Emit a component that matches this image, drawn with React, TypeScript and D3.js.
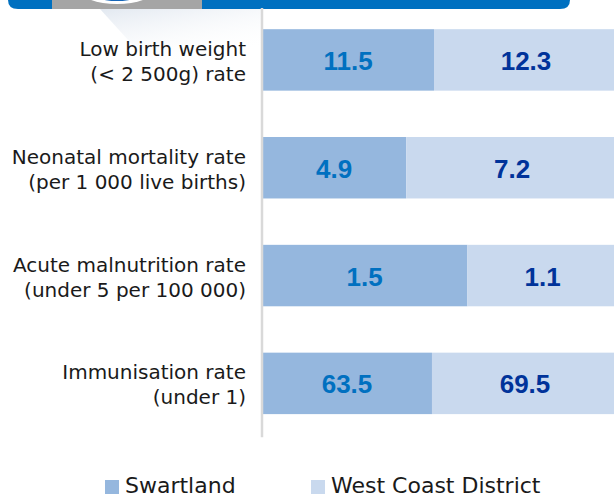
import React from "react";
import * as d3 from "d3";

const categories: string[][] = [
  ["Low birth weight", "(< 2 500g) rate"],
  ["Neonatal mortality rate", "(per 1 000 live births)"],
  ["Acute malnutrition rate", "(under 5 per 100 000)"],
  ["Immunisation rate", "(under 1)"],
];
const swartland: number[] = [11.5, 4.9, 1.5, 63.5];
const westCoast: number[] = [12.3, 7.2, 1.1, 69.5];
const seriesNames: string[] = ["Swartland", "West Coast District"];

const W = 614;
const H = 498;
const barColors = ["#95B7DE", "#C9D9EE"];
const labelColors = ["#0070C0", "#00339A"];

export default function App() {
  const rows = categories.map((c, i) => ({
    key: String(i),
    lines: c,
    a: swartland[i],
    b: westCoast[i],
  }));

  const x = d3.scaleLinear().domain([0, 1]).range([262, 618]);
  const y = d3
    .scaleBand<string>()
    .domain(rows.map((r) => r.key))
    .range([6, 437.3])
    .paddingInner(0.43)
    .paddingOuter(0.215);

  const stack = d3
    .stack<any>()
    .keys(["a", "b"])
    .offset(d3.stackOffsetExpand);
  const stacked = stack(rows as any);

  const bw = y.bandwidth();

  return (
    <svg
      width={W}
      height={H}
      style={{ position: "absolute", left: 0, top: 0, background: "#fff" }}
    >
      <defs>
        <linearGradient id="shadow" x1="0" y1="0" x2="0.6" y2="1">
          <stop offset="0" stopColor="#dfe6ef" stopOpacity="0.9" />
          <stop offset="1" stopColor="#ffffff" stopOpacity="0" />
        </linearGradient>
      </defs>
      {/* header decoration */}
      <polygon points="100,9 262,9 262,62 148,62" fill="url(#shadow)" />
      <path
        d="M8,0 H570 V0 Q570,9 560,9 H18 Q8,9 8,0 Z"
        fill="#0070C0"
      />
      <rect x={52} y={0} width={150} height={9} fill="#A5A5A5" />
      <ellipse cx={117} cy={-10} rx={37} ry={14} fill="#ffffff" />
      <ellipse cx={117} cy={-10} rx={29} ry={11} fill="#1565B8" />

      {/* bars */}
      {stacked.map((s, si) =>
        s.map((d, i) => (
          <rect
            key={`${si}-${i}`}
            x={x(d[0])}
            y={y(rows[i].key)!}
            width={x(d[1]) - x(d[0])}
            height={bw}
            fill={barColors[si]}
          />
        ))
      )}

      {/* value labels */}
      {stacked.map((s, si) =>
        s.map((d, i) => (
          <text
            key={`v${si}-${i}`}
            x={(x(d[0]) + x(d[1])) / 2}
            y={y(rows[i].key)! + bw / 2 + 10}
            textAnchor="middle"
            fontFamily="'Liberation Sans', Arial, sans-serif"
            fontWeight="bold"
            fontSize={26}
            fill={labelColors[si]}
          >
            {(si === 0 ? swartland[i] : westCoast[i]).toFixed(1)}
          </text>
        ))
      )}

      {/* axis line */}
      <line
        x1={262}
        x2={262}
        y1={8}
        y2={y.range()[1]}
        stroke="#D9D9D9"
        strokeWidth={2.5}
      />

      {/* category labels */}
      {rows.map((r) => {
        const cy = y(r.key)! + bw / 2;
        return (
          <text
            key={`c${r.key}`}
            textAnchor="end"
            fontFamily="'DejaVu Sans', sans-serif"
            fontSize={20}
            fill="#1a1a1a"
          >
            {r.lines.map((ln, li) => (
              <tspan key={li} x={246} y={cy - 4 + li * 25}>
                {ln}
              </tspan>
            ))}
          </text>
        );
      })}

      {/* legend */}
      {seriesNames.map((n, i) => {
        const lx = i === 0 ? 105 : 311;
        return (
          <g key={n}>
            <rect x={lx} y={480} width={14} height={14} fill={barColors[i]} />
            <text
              x={lx + 20}
              y={493}
              fontFamily="'DejaVu Sans', sans-serif"
              fontSize={22}
              fill="#1a1a1a"
            >
              {n}
            </text>
          </g>
        );
      })}
    </svg>
  );
}
